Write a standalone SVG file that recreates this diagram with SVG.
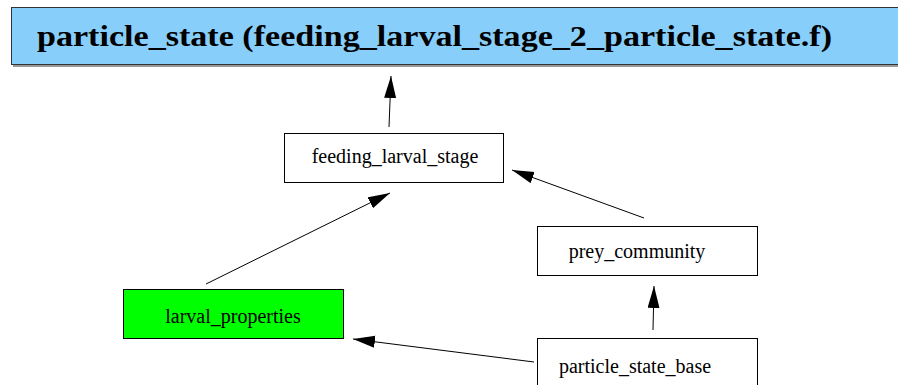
<svg xmlns="http://www.w3.org/2000/svg" width="898" height="385" viewBox="0 0 898 385">
<style>
.node rect{fill:#ffffff;stroke:#000000;stroke-width:1}
.node text{font-family:"Liberation Serif","Times New Roman",serif;font-size:20px;fill:#000;text-anchor:middle}
.edge line{stroke:#000;stroke-width:1}
.title text{font-family:"Liberation Serif","Times New Roman",serif;font-size:29px;font-weight:bold;fill:#000}
</style>
<defs>
<marker id="arr" markerUnits="userSpaceOnUse" markerWidth="24" markerHeight="14" refX="22" refY="6" orient="auto" viewBox="0 0 24 14">
<path d="M0,0 L22,6 L0,12 Z" fill="#000"/>
</marker>
</defs>
<rect x="-1" y="0" width="898" height="385" fill="#ffffff"/>
<g id="title" class="title">
<rect x="13" y="9" width="890" height="58" fill="#999999"/>
<rect x="11.5" y="7.5" width="890" height="57" fill="#87cefa" stroke="#333333" stroke-width="1"/>
<text x="37" y="46" textLength="795" lengthAdjust="spacingAndGlyphs">particle_state (feeding_larval_stage_2_particle_state.f)</text>
</g>
<g id="connectors" class="edge">
<line x1="389" y1="127" x2="391" y2="76" marker-end="url(#arr)"/>
<line x1="206" y1="284" x2="390" y2="193" marker-end="url(#arr)"/>
<line x1="644" y1="218" x2="512" y2="170" marker-end="url(#arr)"/>
<line x1="653" y1="330" x2="654" y2="286" marker-end="url(#arr)"/>
<line x1="534" y1="362" x2="353" y2="339" marker-end="url(#arr)"/>
</g>
<g id="feeding_larval_stage" class="node">
<rect x="284.5" y="133.5" width="219" height="49"/>
<text x="395" y="163">feeding_larval_stage</text>
</g>
<g id="prey_community" class="node">
<rect x="537.5" y="226.5" width="220" height="49"/>
<text x="637" y="258">prey_community</text>
</g>
<g id="larval_properties" class="node">
<rect x="123.5" y="289.5" width="220" height="49" style="fill:#00ff00"/>
<text x="233" y="323">larval_properties</text>
</g>
<g id="particle_state_base" class="node">
<rect x="537.5" y="338.5" width="220" height="60"/>
<text x="635" y="373">particle_state_base</text>
</g>
</svg>
